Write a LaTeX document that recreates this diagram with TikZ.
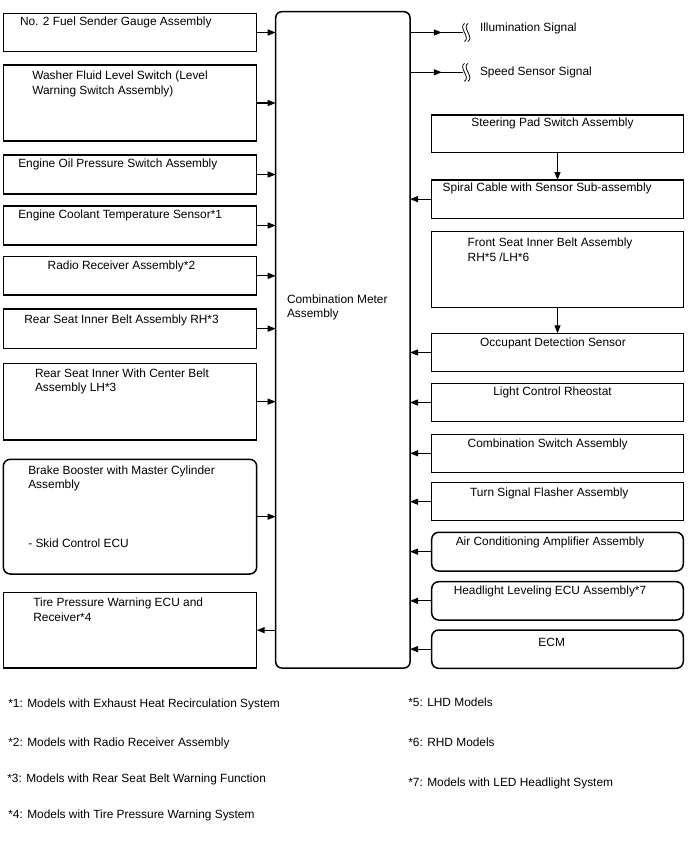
\documentclass[tikz,border=0pt]{standalone}
\usepackage{fontspec}
\setmainfont{Liberation Sans}
\usetikzlibrary{arrows.meta,decorations.markings,calc}
\begin{document}
\begin{tikzpicture}[x=1pt,y=-1pt,
  every node/.style={inner sep=0pt,outer sep=0pt},
  box/.style={draw=black,line width=1.5pt,anchor=north west},
  rbox/.style={box,rounded corners=7pt},
  txt/.style={anchor=base west,font=\fontsize{11.9}{14.5}\selectfont,align=left},
  ctxt/.style={anchor=base,font=\fontsize{11.9}{14.5}\selectfont},
  conn/.style={line width=1.2pt,-{Triangle[length=8pt,width=6pt]}},
  sig/.style={line width=1.2pt,decoration={markings,mark=at position 0.6 with {\arrow{Triangle[length=8pt,width=6pt]}}},postaction={decorate}},
  wig/.style={line width=0.8pt}
]
\useasboundingbox (0,0) rectangle (688,852);

% centre
\node[rbox,rounded corners=6pt,minimum width=134.3pt,minimum height=656.3pt] (meter) at (275.7,11.7) {};
\node[txt,anchor=north west] (meterT) at (287,294.5) {Combination Meter\\Assembly};

% left boxes
\node[box,minimum width=253.4pt,minimum height=38.4pt] (fuel) at (3.3,13.3) {};
\node[box,minimum width=253.4pt,minimum height=76pt] (washer) at (3.3,65) {};
\node[box,minimum width=253.4pt,minimum height=39pt] (oil) at (3.3,155) {};
\node[box,minimum width=253.4pt,minimum height=39pt] (cool) at (3.3,206) {};
\node[box,minimum width=253.4pt,minimum height=38.3pt] (radio) at (3.3,256.7) {};
\node[box,minimum width=253.4pt,minimum height=39.3pt] (rrh) at (3.3,309) {};
\node[box,minimum width=253.4pt,minimum height=76.7pt] (rlh) at (3.3,363.3) {};
\node[rbox,minimum width=253.4pt,minimum height=114.7pt] (brake) at (3.3,459.3) {};
\node[box,minimum width=253.4pt,minimum height=75.7pt] (tire) at (3.3,592.3) {};

\node[txt,anchor=north west] (fuelT) at (20,16.5) {No. 2 Fuel Sender Gauge Assembly};
\node[txt,anchor=north west] (washerT) at (32.3,71) {Washer Fluid Level Switch (Level\\Warning Switch Assembly)};
\node[txt] (oilT) at (18.3,167.3) {Engine Oil Pressure Switch Assembly};
\node[txt] (coolT) at (18.3,218.3) {Engine Coolant Temperature Sensor*1};
\node[txt] (radioT) at (47.7,269.3) {Radio Receiver Assembly*2};
\node[txt] (rrhT) at (24.3,323.3) {Rear Seat Inner Belt Assembly RH*3};
\node[txt,anchor=north west] (rlhT) at (35,368.8) {Rear Seat Inner With Center Belt\\Assembly LH*3};
\node[txt,anchor=north west] (brakeT) at (28.3,465.5) {Brake Booster with Master Cylinder\\Assembly};
\node[txt] (skidT) at (28.3,547.3) {- Skid Control ECU};
\node[txt,anchor=north west] (tireT) at (33.3,598.2) {Tire Pressure Warning ECU and\\Receiver*4};

% right boxes
\node[box,minimum width=251.6pt,minimum height=37.3pt] (steer) at (431.7,115) {};
\node[box,minimum width=251.6pt,minimum height=38.3pt] (spiral) at (431.7,180) {};
\node[box,minimum width=251.6pt,minimum height=75.6pt] (front) at (431.7,231.7) {};
\node[box,minimum width=251.6pt,minimum height=38.4pt] (occ) at (431.7,333.3) {};
\node[box,minimum width=251.6pt,minimum height=38.4pt] (light) at (431.7,383.3) {};
\node[box,minimum width=251.6pt,minimum height=38pt] (comb) at (431.7,434.3) {};
\node[box,minimum width=251.6pt,minimum height=38pt] (turn) at (431.7,482.7) {};
\node[rbox,minimum width=251.6pt,minimum height=38.7pt] (ac) at (431.7,532.3) {};
\node[rbox,minimum width=251.6pt,minimum height=38.3pt] (head) at (431.7,581.7) {};
\node[rbox,minimum width=251.6pt,minimum height=38.3pt] (ecm) at (431.7,630) {};

\node[ctxt] (steerT) at (552.5,126.7) {Steering Pad Switch Assembly};
\node[txt] (spiralT) at (442.7,191.7) {Spiral Cable with Sensor Sub-assembly};
\node[txt,anchor=north west] (frontT) at (467.7,238.2) {Front Seat Inner Belt Assembly\\RH*5 /LH*6};
\node[ctxt] (occT) at (553,346.7) {Occupant Detection Sensor};
\node[ctxt] (lightT) at (552.5,395) {Light Control Rheostat};
\node[ctxt] (combT) at (547.7,447.3) {Combination Switch Assembly};
\node[ctxt] (turnT) at (549.3,496) {Turn Signal Flasher Assembly};
\node[ctxt] (acT) at (550,545) {Air Conditioning Amplifier Assembly};
\node[ctxt] (headT) at (550,594) {Headlight Leveling ECU Assembly*7};
\node[ctxt] (ecmT) at (551.7,646.7) {ECM};

% signals
\coordinate (ill) at (463,32.5);
\coordinate (spd) at (463,72.3);
\draw[sig] (ill -| meter.east) -- (ill);
\draw[sig] (spd -| meter.east) -- (spd);
\foreach \c in {ill,spd}{
  \foreach \dx in {1.5,5}{
    \draw[wig] ($(\c)+(\dx,-9)$) .. controls ($(\c)+(\dx-3,-7)$) and ($(\c)+(\dx-2,-4)$) .. ($(\c)+(\dx,0)$)
      .. controls ($(\c)+(\dx+2,4)$) and ($(\c)+(\dx+3,7)$) .. ($(\c)+(\dx,9)$);
  }
}
\node[txt] (illT) at (480,31.7) {Illumination Signal};
\node[txt] (spdT) at (480,75) {Speed Sensor Signal};

% left connectors
\foreach \b in {fuel,washer,oil,cool,radio,rrh,rlh,brake}{
  \draw[conn] (\b.east) -- (\b.east -| meter.west);
}
\draw[conn] (tire.east -| meter.west) -- (tire.east);

% right connectors
\foreach \b in {spiral,occ,light,comb,turn,ac,head,ecm}{
  \draw[conn] (\b.west) -- (\b.west -| meter.east);
}
\draw[conn] (steer.south) -- (spiral.north);
\draw[conn] (front.south) -- (occ.north);

% footnotes
\node[txt] (n1) at (8.3,707.3) {*1: Models with Exhaust Heat Recirculation System};
\node[txt] (n2) at (8.3,746) {*2: Models with Radio Receiver Assembly};
\node[txt] (n3) at (7.3,782.7) {*3: Models with Rear Seat Belt Warning Function};
\node[txt] (n4) at (8.3,818.3) {*4: Models with Tire Pressure Warning System};
\node[txt] (n5) at (408.3,706.7) {*5: LHD Models};
\node[txt] (n6) at (408.3,746) {*6: RHD Models};
\node[txt] (n7) at (408.3,786) {*7: Models with LED Headlight System};
\end{tikzpicture}
\end{document}
